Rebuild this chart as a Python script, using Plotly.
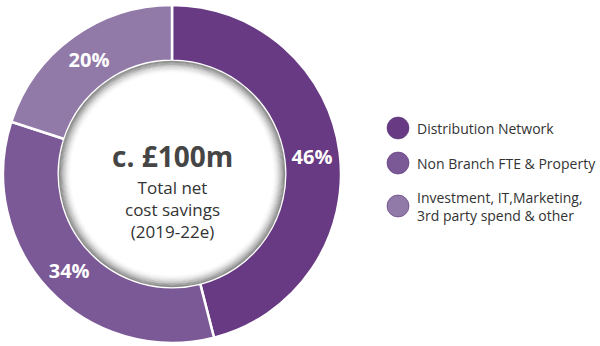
import plotly.graph_objects as go

# Cost-savings breakdown
categories = ["Distribution Network", "Non Branch FTE & Property",
              "Investment, IT,Marketing,<br>3rd party spend & other"]
shares = [46, 34, 20]
colors = ["#673a83", "#7b5896", "#9179a8"]
headline = "c. £100m"
subtitle = ["Total net", "cost savings", "(2019-22e)"]

W, H = 600, 346
cx, cy, R = 172, 174, 169      # pie centre / outer radius in pixels (y from top)
HOLE = 0.67

fig = go.Figure()
fig.add_trace(go.Pie(
    labels=categories,
    values=shares,
    sort=False,
    direction="clockwise",
    rotation=0,
    hole=HOLE,
    marker=dict(colors=colors, line=dict(color="white", width=2.5)),
    texttemplate="%{value}%",
    textposition="inside",
    insidetextorientation="horizontal",
    textfont=dict(family="Open Sans", size=20, color="white", weight="bold"),
    domain=dict(x=[(cx - R) / W, (cx + R) / W],
                y=[(H - cy - R) / H, (H - cy + R) / H]),
    showlegend=False,
    hoverinfo="label+percent",
))

shapes = []
# soft inner shadow along the edge of the hole
r_in = R * HOLE
steps = 14
for k in range(steps):
    r = r_in - 0.6 - k * 0.9
    a = 0.5 * (1 - k / steps) ** 2
    shapes.append(dict(
        type="circle", xref="paper", yref="paper",
        x0=(cx - r) / W, x1=(cx + r) / W,
        y0=(H - cy - r) / H, y1=(H - cy + r) / H,
        line=dict(color=f"rgba(50,50,50,{a:.3f})", width=1.2),
        fillcolor="rgba(0,0,0,0)", layer="above",
    ))

annotations = [
    dict(text=f"<b>{headline}</b>", x=cx / W, y=(H - 156) / H, xref="paper", yref="paper",
         xanchor="center", yanchor="middle", showarrow=False, borderpad=0,
         font=dict(family="Open Sans", size=28, color="#454545")),
    dict(text="<br>".join(subtitle), x=cx / W, y=(H - 209) / H, xref="paper", yref="paper",
         xanchor="center", yanchor="middle", align="center", showarrow=False, borderpad=0,
         font=dict(family="Open Sans", size=17, color="#333333")),
]

# legend: coloured dots with labels
leg_y = [128, 163, 206]
dot_x, dot_r = 398, 11
for lab, col, ly in zip(categories, colors, leg_y):
    shapes.append(dict(
        type="circle", xref="paper", yref="paper",
        x0=(dot_x - dot_r) / W, x1=(dot_x + dot_r) / W,
        y0=(H - ly - dot_r) / H, y1=(H - ly + dot_r) / H,
        fillcolor=col, line=dict(color="#5a3278", width=0.6),
    ))
    annotations.append(dict(
        text=lab, x=415 / W, y=(H - ly) / H, xref="paper", yref="paper",
        xanchor="left", yanchor="middle", align="left", showarrow=False,
        font=dict(family="Open Sans", size=14, color="#333333"),
    ))

fig.update_layout(
    width=W, height=H,
    margin=dict(l=0, r=0, t=0, b=0),
    paper_bgcolor="white", plot_bgcolor="white",
    shapes=shapes, annotations=annotations,
)

fig.write_html("out.html")
